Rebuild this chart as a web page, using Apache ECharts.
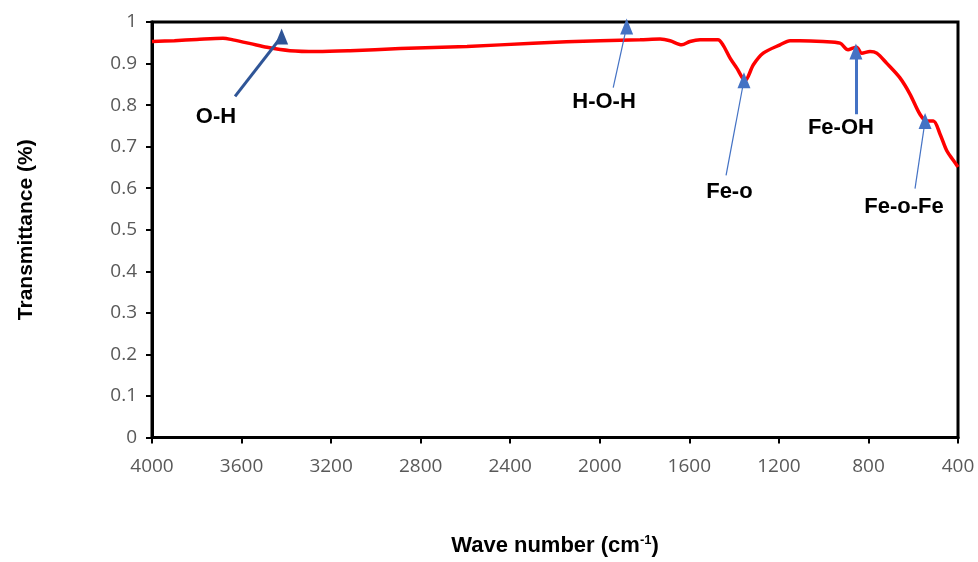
<!DOCTYPE html>
<html>
<head>
<meta charset="utf-8">
<script src="https://cdn.jsdelivr.net/npm/echarts@6/dist/echarts.min.js"></script>
<style>html,body{margin:0;padding:0;background:#fff;overflow:hidden;}#c{width:978px;height:562px;}</style>
</head>
<body>
<div id="c"></div>
<script>
// Spectrum data
var waveNumbers = [4000, 3900, 3800, 3683, 3638, 3560, 3486, 3384, 3263, 3116, 2892, 2593, 2298, 1999, 1820, 1731, 1686, 1634, 1597, 1552, 1472, 1450, 1418, 1388, 1351, 1314, 1270, 1195, 1150, 1106, 1003, 927, 891, 870, 853, 830, 793, 763, 719, 660, 614, 570, 540, 510, 480, 450, 421, 400];
var transmittance = [0.953, 0.955, 0.958, 0.961, 0.957, 0.948, 0.939, 0.931, 0.929, 0.931, 0.936, 0.941, 0.949, 0.955, 0.957, 0.959, 0.955, 0.945, 0.953, 0.957, 0.957, 0.945, 0.913, 0.889, 0.859, 0.897, 0.925, 0.945, 0.955, 0.955, 0.953, 0.949, 0.933, 0.937, 0.939, 0.925, 0.929, 0.925, 0.901, 0.866, 0.826, 0.778, 0.762, 0.762, 0.730, 0.690, 0.667, 0.651];

// Axis ticks
var xTicks = [4000, 3600, 3200, 2800, 2400, 2000, 1600, 1200, 800, 400];
var yTicks = [0, 0.1, 0.2, 0.3, 0.4, 0.5, 0.6, 0.7, 0.8, 0.9, 1];

// Annotations
var annLabels = ['O-H', 'H-O-H', 'Fe-o', 'Fe-OH', 'Fe-o-Fe'];
var annLabelX = [3714, 1981, 1421, 923, 641];
var annLabelY = [0.771, 0.807, 0.592, 0.745, 0.556];
var arrowTailX = [3629, 1940, 1436, 856, 592];
var arrowTailY = [0.821, 0.842, 0.631, 0.778, 0.599];
var arrowTipX = [3421, 1880, 1356, 856, 547];
var arrowTipY = [0.965, 0.989, 0.860, 0.929, 0.762];
var arrowColors = ['#2F5597', '#4472C4', '#4472C4', '#4472C4', '#4472C4'];
var arrowWidths = [3, 1.2, 1.2, 3, 1.2];

var lineData = waveNumbers.map(function (w, i) { return [w, transmittance[i]]; });
var arrows = annLabels.map(function (n, i) {
  return [
    { coord: [arrowTailX[i], arrowTailY[i]], lineStyle: { color: arrowColors[i], width: arrowWidths[i], type: 'solid' } },
    { coord: [arrowTipX[i], arrowTipY[i]] }
  ];
});
var labelData = annLabels.map(function (n, i) { return { name: n, value: [annLabelX[i], annLabelY[i]] }; });

var chart = echarts.init(document.getElementById('c'), null, { renderer: 'canvas' });
chart.setOption({
  animation: false,
  backgroundColor: '#ffffff',
  grid: { left: 152, right: 20, top: 22, bottom: 121, show: true, borderColor: '#000', borderWidth: 3, backgroundColor: 'transparent' },
  xAxis: {
    type: 'value', inverse: true, min: 400, max: 4000, interval: 400,
    axisLine: { show: true, onZero: false, lineStyle: { color: '#000', width: 3 } },
    axisTick: { show: true, inside: false, length: 6, lineStyle: { color: '#000', width: 2 } },
    splitLine: { show: false },
    axisLabel: { color: '#595959', fontFamily: 'Open Sans', fontSize: 19, margin: 20,
      formatter: function (v) { return xTicks.indexOf(v) >= 0 ? String(v) : ''; } },
    name: '{a|Wave number (cm}{s|-1}{a|)}',
    nameLocation: 'middle', nameGap: 96,
    nameTextStyle: { rich: {
      a: { fontFamily: 'Liberation Sans', fontWeight: 'bold', fontSize: 22, color: '#000' },
      s: { fontFamily: 'Liberation Sans', fontWeight: 'bold', fontSize: 13, color: '#000', verticalAlign: 'top', padding: [0, 0, 12, 0] }
    } }
  },
  yAxis: {
    type: 'value', min: 0, max: 1, interval: 0.1,
    axisLine: { show: true, lineStyle: { color: '#000', width: 3 } },
    axisTick: { show: true, inside: false, length: 6, lineStyle: { color: '#000', width: 2 } },
    splitLine: { show: false },
    axisLabel: { color: '#595959', fontFamily: 'Open Sans', fontSize: 19, margin: 15,
      formatter: function (v) { var r = Math.round(v * 10) / 10; return yTicks.indexOf(r) >= 0 ? String(r) : ''; } },
    name: 'Transmittance (%)', nameLocation: 'middle', nameGap: 115, nameRotate: 90,
    nameTextStyle: { fontFamily: 'Liberation Sans', fontWeight: 'bold', fontSize: 21, color: '#000' }
  },
  series: [
    {
      type: 'line', data: lineData, showSymbol: false, smooth: 0.3,
      lineStyle: { color: '#FF0000', width: 3.5 },
      markLine: {
        silent: true, symbol: ['none', 'triangle'], symbolSize: [13, 16], symbolRotate: 0,
        label: { show: false },
        data: arrows
      }
    },
    {
      type: 'scatter', data: labelData, symbolSize: 0, silent: true,
      itemStyle: { opacity: 1 },
      label: { show: true, position: 'inside', formatter: '{b}', color: '#000', opacity: 1, fontFamily: 'Liberation Sans', fontWeight: 'bold', fontSize: 22 }
    }
  ]
});
</script>
</body>
</html>
